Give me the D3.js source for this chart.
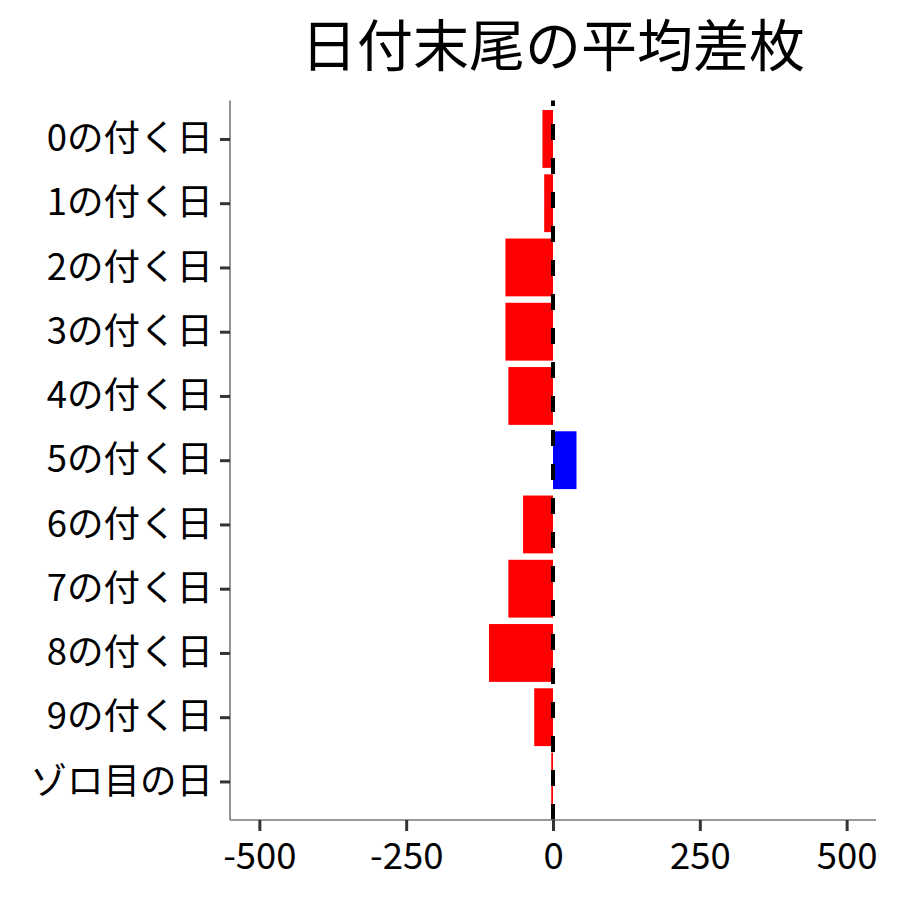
<!DOCTYPE html>
<html><head><meta charset="utf-8">
<script src="https://cdn.jsdelivr.net/npm/d3@7"></script>
<style>body{margin:0;background:#fff}</style>
</head><body>
<svg id="c" width="900" height="900"></svg>
<script>
const categories = ["0の付く日","1の付く日","2の付く日","3の付く日","4の付く日","5の付く日","6の付く日","7の付く日","8の付く日","9の付く日","ゾロ目の日"];
const values = [-18, -15, -81, -81, -76, 40, -51, -76, -109, -32, -3];
const xTicks = [-500, -250, 0, 250, 500];
const titleText = "日付末尾の平均差枚";

const font = "'Noto Sans CJK JP', 'Noto Sans', sans-serif";
const svg = d3.select("#c");
const m = {left:230, right:876, top:100.4, bottom:820};

const x = d3.scaleLinear().domain([-550, 550]).range([m.left, m.right]);
const step = (m.bottom - m.top) / (categories.length - 1 + 1.2);
const yc = d3.scalePoint().domain(categories).range([m.top + 0.6*step, m.bottom - 0.6*step]);
const bh = step * 0.9;

svg.append("g").selectAll("rect").data(values).join("rect")
  .attr("x", d => x(Math.min(0, d)))
  .attr("width", d => Math.abs(x(d) - x(0)))
  .attr("y", (d,i) => yc(categories[i]) - bh/2)
  .attr("height", bh)
  .attr("fill", d => d >= 0 ? "#0000ff" : "#ff0000");

svg.append("line")
  .attr("x1", x(0)).attr("x2", x(0))
  .attr("y1", m.bottom).attr("y2", m.top)
  .attr("stroke", "#000").attr("stroke-width", 4)
  .attr("stroke-dasharray", "16,18");

// axes
const xa = svg.append("g").attr("transform", `translate(0,${m.bottom})`)
  .call(d3.axisBottom(x).tickValues(xTicks).tickFormat(d => String(d)).tickSize(11).tickPadding(12).tickSizeOuter(0));
const ya = svg.append("g").attr("transform", `translate(${m.left},0)`)
  .call(d3.axisLeft(yc).tickSize(10).tickPadding(7).tickSizeOuter(0));
[xa, ya].forEach(a => {
  a.select(".domain").attr("stroke", "#777").attr("stroke-width", 1.6);
  a.selectAll(".tick line").attr("stroke", "#333").attr("stroke-width", 3);
  a.selectAll("text").attr("fill", "#000").style("font-family", font).style("font-size", "36.5px");
});
xa.select(".domain").attr("d", `M${m.left},0H${m.right}`);
ya.select(".domain").attr("d", `M0,${m.top}V${m.bottom}`);

svg.append("text").attr("x", (m.left + m.right)/2).attr("y", 66)
  .attr("text-anchor", "middle").style("font-family", font).style("font-size", "56px")
  .attr("fill", "#000").text(titleText);
</script>
</body></html>
